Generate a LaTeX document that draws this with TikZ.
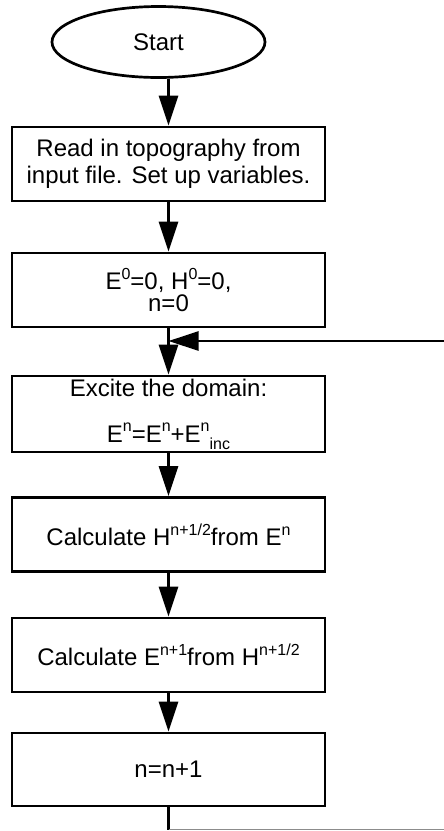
\documentclass[tikz,border=0pt]{standalone}
\usepackage{fontspec}
\setmainfont{Liberation Sans}
\usetikzlibrary{arrows.meta,shapes.geometric}
\newcommand{\up}[1]{\raisebox{0.42em}{\fontsize{16}{16}\selectfont #1}}
\newcommand{\dn}[1]{\raisebox{-0.3em}{\fontsize{16}{16}\selectfont #1}}
\begin{document}
\begin{tikzpicture}[x=1pt,y=-1pt,
  box/.style={draw,line width=2.7pt,minimum width=313pt,minimum height=74pt,inner sep=0pt,align=center,font=\fontsize{24}{27}\selectfont},
  flow/.style={line width=2.7pt,-{Triangle[length=30pt,width=19pt]}},
  plain/.style={line width=2.7pt}]
\useasboundingbox (0,0) rectangle (444,831);
\node[draw,ellipse,line width=2.7pt,minimum width=213pt,minimum height=71pt,inner sep=0pt,font=\fontsize{24}{27}\selectfont] (start) at (158.5,42) {Start};
\node[box] (b1) at (168.5,164) {Read in topography from\\input file. Set up variables.};
\node[box] (b2) at (168.5,290) {E\up{0}=0, H\up{0}=0,\\[-5pt]n=0};
\node[box,minimum height=76pt] (b3) at (168.5,414) {Excite the domain:\\[19pt]E\up{n}=E\up{n}+E\up{n}\dn{inc}};
\node[box] (b4) at (168.5,534.5) {Calculate H\up{n+1/2}from E\up{n}};
\node[box] (b5) at (168.5,655) {Calculate E\up{n+1}from H\up{n+1/2}};
\node[box,minimum height=73pt] (b6) at (168.5,769.5) {n=n+1};
\coordinate (join) at (168.5,341);
\coordinate (rt) at (444,341);
\coordinate (corner) at (168.5,829.5);
\coordinate (bt) at (444,829.5);
\draw[flow] (start.south -| b1) -- (b1.north);
\draw[flow] (b1) -- (b2);
\draw[flow] (b2) -- (b3);
\draw[flow] (rt) -- (join);
\draw[flow] (b3) -- (b4);
\draw[flow] (b4) -- (b5);
\draw[flow] (b5) -- (b6);
\draw[plain] (b6.south) -- (corner);
\draw[line width=1.5pt,black!45] (corner) -- (bt);
\end{tikzpicture}
\end{document}
